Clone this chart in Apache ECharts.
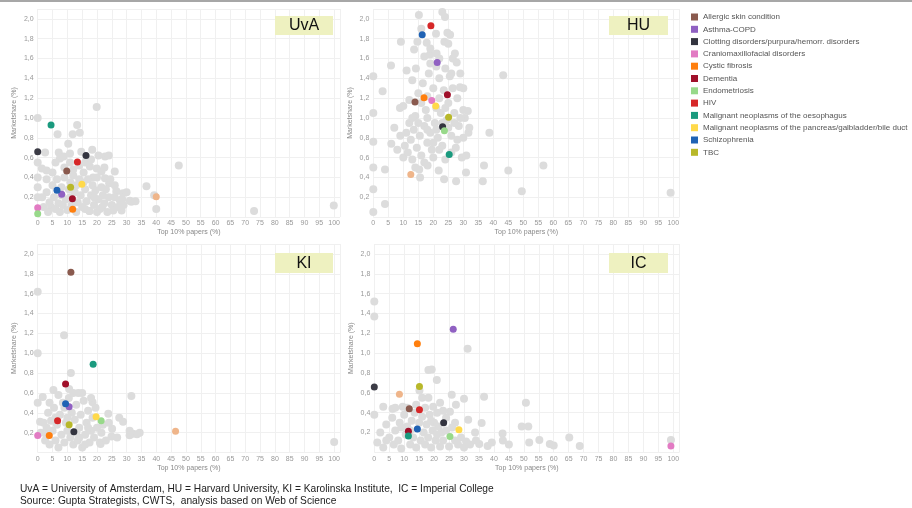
<!DOCTYPE html>
<html>
<head>
<meta charset="utf-8">
<script src="https://cdn.jsdelivr.net/npm/echarts@6/dist/echarts.min.js"></script>
<style>
html,body{margin:0;padding:0;background:#fff;}
#chart{width:912px;height:508px;}
</style>
</head>
<body>
<div id="chart"></div>
<script>
// ---------- DATA ----------
const categories = [
  'Allergic skin condition',
  'Asthma-COPD',
  'Clotting disorders/purpura/hemorr. disorders',
  'Craniomaxillofacial disorders',
  'Cystic fibrosis',
  'Dementia',
  'Endometriosis',
  'HIV',
  'Malignant neoplasms of the oesophagus',
  'Malignant neoplasms of the pancreas/galbladder/bile duct',
  'Schizophrenia',
  'TBC'
];
const categoryColors = ['#8a5a4e','#9061c2','#33343f','#e27bc3','#ff7f0e','#a0102a','#98d98a','#d62728','#1a9a7e','#ffd94a','#1f62b4','#b8b82a'];

const panelNames = ['UvA','HU','KI','IC'];

// highlighted points per panel, in category order: [top10%, marketshare]
const uvaColored = [[9.8,0.465],[8.1,0.23],[16.3,0.62],[0,0.094],[11.8,0.078],[11.7,0.185],[0,0.033],[13.4,0.555],[4.5,0.93],[14.9,0.33],[6.5,0.27],[11.1,0.30]];
const huColored  = [[13.9,1.16],[21.3,1.56],[23.1,0.91],[19.5,1.175],[16.9,1.205],[24.7,1.235],[23.7,0.87],[19.2,1.93],[25.3,0.63],[20.8,1.12],[16.3,1.84],[25.1,1.007]];
const kiColored  = [[11.2,1.815],[10.6,0.46],[12.2,0.21],[0,0.17],[3.9,0.17],[9.4,0.69],[21.4,0.32],[6.7,0.32],[18.7,0.89],[19.7,0.36],[9.4,0.49],[10.6,0.28]];
const icColored  = [[11.7,0.44],[26.4,1.24],[23.2,0.30],[99.2,0.065],[14.4,1.095],[11.4,0.214],[25.3,0.16],[15.1,0.43],[11.4,0.166],[28.3,0.227],[14.4,0.237],[15.1,0.665]];

// other highlighted points (not in legend)
const uvaPeach = [[40,0.205]];
const huPeach  = [[12.5,0.43]];
const kiPeach  = [[46.5,0.215]];
const icPeach  = [[8.4,0.585]];
const uvaDark  = [[0,0.66]];
const huDark   = [];
const kiDark   = [];
const icDark   = [[0,0.66]];

// background (other disease areas)
const uvaGrey = [[19.9,1.11],[13.3,0.93],[6.7,0.835],[11.8,0.835],[14.2,0.85],[10.3,0.74],[2.5,0.65],[7.1,0.65],[8.8,0.61],[10.9,0.64],[14.7,0.66],[18.4,0.68],[22.7,0.61],[24,0.62],[1.4,0.49],[3,0.47],[26,0.46],[47.6,0.52],[36.7,0.31],[39.3,0.22],[40,0.08],[73,0.06],[99.9,0.115],[26.6,0.26],[28.5,0.18],[31.6,0.155],[28.3,0.065],[25.5,0.065],[17.4,0.06],[0,1.0],[0,0.55],[0,0.4],[0,0.3],[0,0.2],[7.5,0.59],[10.9,0.55],[17.6,0.51],[19.9,0.49],[21.5,0.46],[18.7,0.40],[22.7,0.39],[24.1,0.34],[28.8,0.24],[27.7,0.17],[31.1,0.165],[21.8,0.1],
  [3,0.25],[4,0.15],[4.5,0.1],[5,0.32],[5.5,0.2],[6,0.08],[6.5,0.38],[7,0.14],[7.5,0.05],[8,0.3],[8.5,0.12],[9,0.4],[9.5,0.18],[10,0.07],[10.5,0.28],[11,0.35],[11.5,0.12],[12,0.42],[12.5,0.25],[13,0.05],[13.5,0.15],[14,0.38],[14.5,0.22],[15,0.1],[15.5,0.45],[16,0.28],[16.5,0.16],[17,0.38],[17.5,0.06],[18,0.22],[18.5,0.32],[19,0.12],[19.5,0.27],[20,0.4],[20.5,0.18],[21,0.08],[21.5,0.3],[22,0.22],[22.5,0.14],[23,0.28],[23.5,0.05],[24,0.2],[25,0.12],[26,0.2],[27,0.1],[29,0.12],[33,0.16],[30,0.25],[12,0.48],[14,0.52],[16,0.55],[9,0.5],[5,0.45],[18,0.58],[3,0.38],[2,0.1],[1.5,0.2],[6,0.55],[13,0.32],[15.5,0.35],[19,0.2],[11,0.2],[8,0.22],[24.5,0.38],[26,0.32],[20,0.05],[16,0.08],[3.5,0.05],[20.5,0.62],[22.5,0.5]];
const huGrey = [[15.2,2.04],[23,2.07],[23.9,2.02],[17.8,1.76],[9.2,1.77],[13.6,1.69],[14.7,1.77],[20.9,1.85],[24.7,1.86],[25.6,1.84],[23.7,1.77],[5.9,1.53],[11.1,1.48],[14.2,1.50],[17,1.62],[18.9,1.64],[21.1,1.65],[27.2,1.65],[26.5,1.60],[27.8,1.56],[0,1.42],[43.3,1.43],[3.1,1.27],[8.9,1.10],[0,1.05],[28.9,1.31],[30,1.08],[31.7,0.85],[38.7,0.85],[6,0.74],[0,0.76],[3.9,0.48],[0,0.5],[15.3,0.48],[21.8,0.47],[18.1,0.52],[36.9,0.52],[45,0.47],[56.7,0.52],[30.9,0.45],[36.5,0.36],[27.6,0.36],[23.6,0.38],[15.6,0.40],[49.5,0.26],[99.1,0.245],[3.9,0.13],[0,0.28],[0,0.05],
  [10,0.6],[10.5,0.72],[11,0.85],[11.5,0.65],[12,0.95],[12.5,0.78],[13,0.58],[13.5,0.88],[14,1.02],[14.5,0.7],[15,1.25],[15.5,0.82],[16,0.62],[16.5,1.35],[17,0.92],[17.5,1.08],[18,0.75],[18.5,1.45],[19,0.85],[19.5,0.68],[20,1.3],[20.5,0.95],[21,1.52],[21.5,0.8],[22,1.4],[22.5,1.05],[23,0.72],[23.5,1.28],[24,1.5],[24.5,0.98],[25,1.15],[25.5,1.42],[26,0.82],[26.5,1.3],[27,1.05],[27.5,0.7],[28,1.2],[28.5,0.92],[29,1.45],[29.5,0.6],[30,0.8],[30.5,1.0],[31,0.62],[31.5,1.07],[32,0.9],[12,1.18],[13,1.38],[16,1.15],[18,1.22],[19,1.55],[22,1.2],[24,1.1],[26,0.65],[28,0.78],[17,0.55],[20,0.6],[14,0.5],[8,0.68],[9,0.82],[10,1.12],[7,0.9],[19,1.7],[22,1.6],[25,1.75],[16,1.9],[13,1.0],[21,0.88],[23,0.95],[25,0.9],[27,0.95],[29,1.0],[30,1.3],[15,0.95],[18,1.0],[20,0.75],[22,0.68],[24,0.58],[18,0.88],[21,1.1],[26,1.45]];
const kiGrey = [[8.9,1.18],[0,1.62],[0,1.0],[11.2,0.80],[31.6,0.57],[5.3,0.63],[1.7,0.56],[13.7,0.60],[10.6,0.64],[18.5,0.505],[23.8,0.39],[27.5,0.35],[28.8,0.31],[31,0.22],[32.1,0.19],[33.5,0.185],[34.4,0.2],[31,0.175],[25.1,0.24],[24.9,0.16],[26.8,0.15],[21.2,0.085],[100,0.105],[0,0.5],[0.8,0.31],
  [1,0.2],[2,0.3],[2.5,0.12],[3,0.25],[3.5,0.4],[4,0.08],[4.5,0.32],[5,0.22],[5.5,0.45],[6,0.12],[6.5,0.28],[7,0.05],[7.5,0.38],[8,0.18],[8.5,0.5],[9,0.1],[9.5,0.3],[10,0.22],[10.5,0.55],[11,0.15],[11.5,0.4],[12,0.08],[12.5,0.33],[13,0.48],[13.5,0.12],[14,0.25],[14.5,0.38],[15,0.05],[15.5,0.52],[16,0.18],[16.5,0.3],[17,0.42],[17.5,0.1],[18,0.22],[18.5,0.35],[19,0.15],[19.5,0.45],[20,0.25],[21,0.1],[21.5,0.2],[22,0.28],[23,0.12],[24,0.3],[4,0.5],[7,0.58],[12,0.6],[15,0.6],[18,0.55],[9,0.45],[6,0.35],[14,0.15],[17,0.25],[3,0.18],[13,0.2],[10,0.35],[16,0.08]];
const icGrey = [[0,1.52],[0,1.37],[31.2,1.045],[18.1,0.83],[19.2,0.835],[20.9,0.73],[15.1,0.625],[18.1,0.55],[25.9,0.58],[27.3,0.48],[30,0.54],[36.7,0.56],[50.7,0.50],[3,0.46],[6.1,0.44],[9.5,0.46],[19.7,0.46],[25.3,0.41],[31.4,0.33],[35.9,0.295],[0,0.38],[49.3,0.26],[51.5,0.26],[33.7,0.2],[42.9,0.19],[55.2,0.125],[51.8,0.1],[58.7,0.085],[65.2,0.15],[68.7,0.065],[39.3,0.1],[30.7,0.11],[35.1,0.085],[37.9,0.065],[99.2,0.125],[43,0.12],[45,0.08],[60,0.07],
  [1,0.1],[2,0.2],[3,0.05],[4,0.28],[5,0.15],[6,0.35],[6.5,0.08],[7,0.22],[8,0.12],[8.5,0.3],[9,0.04],[10,0.38],[10.5,0.18],[11,0.26],[12,0.08],[12.5,0.32],[13,0.15],[13.5,0.4],[14,0.05],[15,0.3],[15.5,0.12],[16,0.36],[16.5,0.2],[17,0.08],[17.5,0.28],[18,0.15],[18.5,0.38],[19,0.05],[19.5,0.22],[20,0.3],[20.5,0.12],[21,0.18],[21.5,0.26],[22,0.06],[22.5,0.2],[23,0.12],[24,0.22],[25,0.06],[26,0.25],[27,0.12],[28,0.08],[29,0.15],[30,0.05],[32,0.08],[34,0.12],[11,0.45],[14,0.48],[17,0.45],[21,0.4],[24,0.35],[7,0.45],[9,0.25],[4,0.12],[27,0.3],[12,0.22],[19,0.32],[23,0.42],[16,0.55],[22,0.5]];

const xTickMin = 0, xTickMax = 100, xTickStep = 5;
const yTickMin = 0, yTickStep = 0.2;

const footer1 = 'UvA = University of Amsterdam, HU = Harvard University, KI = Karolinska Institute,  IC = Imperial College';
const footer2 = 'Source: Gupta Strategists, CWTS,  analysis based on Web of Science';

// ---------- LAYOUT ----------
const grids = [
  {left: 37.7, top: 9, width: 302.3, height: 208},
  {left: 373.3, top: 9, width: 306, height: 208},
  {left: 37.7, top: 244, width: 302.4, height: 208.5},
  {left: 374.3, top: 244, width: 305, height: 208.4}
];
const coloredSets = [uvaColored, huColored, kiColored, icColored];
const greySets = [uvaGrey, huGrey, kiGrey, icGrey];
const peachSets = [uvaPeach, huPeach, kiPeach, icPeach];
const darkSets = [uvaDark, huDark, kiDark, icDark];

const FONT = '"Liberation Sans", Arial, sans-serif';
const xAxes = [], yAxes = [], series = [];
grids.forEach((g, i) => {
  xAxes.push({
    gridIndex: i, type: 'value', min: xTickMin, max: 102, interval: xTickStep,
    name: 'Top 10% papers (%)', nameLocation: 'middle', nameGap: 12,
    nameTextStyle: {fontSize: 7, color: '#888', fontFamily: FONT},
    axisLine: {show: false}, axisTick: {show: false},
    axisLabel: {fontSize: 7, color: '#999', margin: 3, fontFamily: FONT, showMaxLabel: false,
      formatter: v => (v % 5 === 0 && v <= xTickMax) ? String(v) : ''},
    splitLine: {lineStyle: {color: '#f0f0f0', width: 1}}
  });
  yAxes.push({
    gridIndex: i, type: 'value', min: yTickMin, max: 2.1, interval: yTickStep,
    name: 'Marketshare (%)', nameLocation: 'middle', nameGap: 20, nameRotate: 90,
    nameTextStyle: {fontSize: 7, color: '#888', fontFamily: FONT},
    axisLine: {show: false}, axisTick: {show: false},
    axisLabel: {fontSize: 7, color: '#999', margin: 4, fontFamily: FONT, showMinLabel: false, showMaxLabel: false,
      formatter: v => v.toFixed(1).replace('.', ',')},
    splitLine: {lineStyle: {color: '#f0f0f0', width: 1}}
  });
  series.push({
    type: 'scatter', name: 'other', xAxisIndex: i, yAxisIndex: i, data: greySets[i],
    symbolSize: 8, itemStyle: {color: '#dcdcdc', opacity: 1}, silent: true, z: 2, clip: true
  });
  series.push({
    type: 'scatter', name: 'other2', xAxisIndex: i, yAxisIndex: i, data: peachSets[i],
    symbolSize: 7, itemStyle: {color: '#efb58a', opacity: 1}, z: 3, clip: true
  });
  series.push({
    type: 'scatter', name: 'other3', xAxisIndex: i, yAxisIndex: i, data: darkSets[i],
    symbolSize: 7, itemStyle: {color: '#3c3c46', opacity: 1}, z: 3, clip: true
  });
  categories.forEach((c, k) => {
    series.push({
      type: 'scatter', name: c, xAxisIndex: i, yAxisIndex: i, data: [coloredSets[i][k]],
      symbolSize: 7, itemStyle: {color: categoryColors[k], opacity: 1}, z: 4, clip: true
    });
  });
});

const boxes = [
  {x: 275, y: 16, w: 58, h: 19},
  {x: 609, y: 16, w: 59, h: 19},
  {x: 275, y: 253, w: 58, h: 20},
  {x: 609, y: 253, w: 59, h: 20}
];
const graphics = [
  {type: 'line', shape: {x1: 0, y1: 1, x2: 912, y2: 1}, style: {stroke: '#8a8a8a', lineWidth: 1.5}, z: 100}
];
boxes.forEach((b, i) => {
  graphics.push({type: 'rect', shape: {x: b.x, y: b.y, width: b.w, height: b.h}, style: {fill: '#eef1c0'}, z: 100});
  graphics.push({type: 'text', x: b.x + b.w / 2, y: b.y + b.h / 2 + 0.5, style: {text: panelNames[i], fill: '#111', font: '16px ' + FONT, textAlign: 'center', textVerticalAlign: 'middle'}, z: 101});
});
graphics.push({type: 'text', x: 20, y: 489, style: {text: footer1, fill: '#222', font: '10.2px ' + FONT, textVerticalAlign: 'middle'}, z: 101});
graphics.push({type: 'text', x: 20, y: 501, style: {text: footer2, fill: '#222', font: '10.2px ' + FONT, textVerticalAlign: 'middle'}, z: 101});

const chart = echarts.init(document.getElementById('chart'), null, {renderer: 'canvas'});
chart.setOption({
  animation: false,
  backgroundColor: '#fff',
  textStyle: {fontFamily: FONT},
  grid: grids.map(g => Object.assign({containLabel: false}, g)),
  xAxis: xAxes,
  yAxis: yAxes,
  legend: {
    data: categories, orient: 'vertical', left: 686, top: 7,
    icon: 'rect', itemWidth: 7, itemHeight: 7, itemGap: 2.3,
    textStyle: {fontSize: 8, color: '#555', lineHeight: 10, fontFamily: FONT},
    selectedMode: false
  },
  series: series,
  graphic: graphics
});
</script>
</body>
</html>
